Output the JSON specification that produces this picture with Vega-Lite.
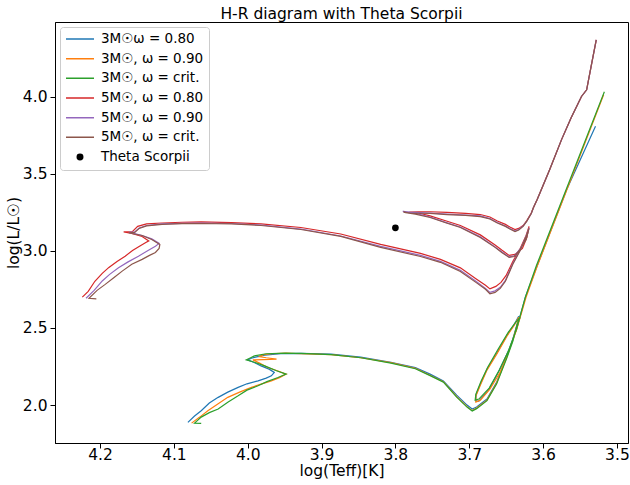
{
  "$schema": "https://vega.github.io/schema/vega-lite/v6.json",
  "width": 573,
  "height": 421,
  "autosize": {"type": "none"},
  "padding": {"left": 55, "top": 22, "right": 2, "bottom": 42},
  "title": {"text": "H-R diagram with Theta Scorpii", "fontSize": 15.5, "font": "DejaVu Sans", "fontWeight": "normal", "color": "black", "offset": 4, "anchor": "middle", "baseline": "alphabetic", "dy": 16},
  "datasets": {
    "star": [{"s": "Theta Scorpii", "x": 3.80, "y": 3.15}],
    "tracks": [
      {"s":"3M☉ω = 0.80","i":0,"x":4.081,"y":1.888},{"s":"3M☉ω = 0.80","i":1,"x":4.072,"y":1.929},{"s":"3M☉ω = 0.80","i":2,"x":4.063,"y":1.963},{"s":"3M☉ω = 0.80","i":3,"x":4.052,"y":2.013},{"s":"3M☉ω = 0.80","i":4,"x":4.040,"y":2.050},{"s":"3M☉ω = 0.80","i":5,"x":4.027,"y":2.084},{"s":"3M☉ω = 0.80","i":6,"x":4.013,"y":2.115},{"s":"3M☉ω = 0.80","i":7,"x":4.001,"y":2.138},{"s":"3M☉ω = 0.80","i":8,"x":3.986,"y":2.157},{"s":"3M☉ω = 0.80","i":9,"x":3.975,"y":2.175},{"s":"3M☉ω = 0.80","i":10,"x":3.968,"y":2.190},{"s":"3M☉ω = 0.80","i":11,"x":3.964,"y":2.212},{"s":"3M☉ω = 0.80","i":12,"x":3.971,"y":2.233},{"s":"3M☉ω = 0.80","i":13,"x":3.982,"y":2.254},{"s":"3M☉ω = 0.80","i":14,"x":3.992,"y":2.278},{"s":"3M☉ω = 0.80","i":15,"x":4.000,"y":2.293},{"s":"3M☉ω = 0.80","i":16,"x":3.995,"y":2.304},{"s":"3M☉ω = 0.80","i":17,"x":3.991,"y":2.309},{"s":"3M☉ω = 0.80","i":18,"x":3.977,"y":2.324},{"s":"3M☉ω = 0.80","i":19,"x":3.955,"y":2.333},{"s":"3M☉ω = 0.80","i":20,"x":3.928,"y":2.335},{"s":"3M☉ω = 0.80","i":21,"x":3.887,"y":2.330},{"s":"3M☉ω = 0.80","i":22,"x":3.847,"y":2.311},{"s":"3M☉ω = 0.80","i":23,"x":3.806,"y":2.278},{"s":"3M☉ω = 0.80","i":24,"x":3.773,"y":2.243},{"s":"3M☉ω = 0.80","i":25,"x":3.753,"y":2.201},{"s":"3M☉ω = 0.80","i":26,"x":3.735,"y":2.157},{"s":"3M☉ω = 0.80","i":27,"x":3.717,"y":2.065},{"s":"3M☉ω = 0.80","i":28,"x":3.703,"y":2.000},{"s":"3M☉ω = 0.80","i":29,"x":3.696,"y":1.974},{"s":"3M☉ω = 0.80","i":30,"x":3.690,"y":1.987},{"s":"3M☉ω = 0.80","i":31,"x":3.676,"y":2.039},{"s":"3M☉ω = 0.80","i":32,"x":3.663,"y":2.147},{"s":"3M☉ω = 0.80","i":33,"x":3.649,"y":2.319},{"s":"3M☉ω = 0.80","i":34,"x":3.641,"y":2.427},{"s":"3M☉ω = 0.80","i":35,"x":3.634,"y":2.544},{"s":"3M☉ω = 0.80","i":36,"x":3.633,"y":2.576},{"s":"3M☉ω = 0.80","i":37,"x":3.639,"y":2.524},{"s":"3M☉ω = 0.80","i":38,"x":3.649,"y":2.453},{"s":"3M☉ω = 0.80","i":39,"x":3.662,"y":2.343},{"s":"3M☉ω = 0.80","i":40,"x":3.676,"y":2.233},{"s":"3M☉ω = 0.80","i":41,"x":3.685,"y":2.136},{"s":"3M☉ω = 0.80","i":42,"x":3.691,"y":2.065},{"s":"3M☉ω = 0.80","i":43,"x":3.691,"y":2.026},{"s":"3M☉ω = 0.80","i":44,"x":3.687,"y":2.026},{"s":"3M☉ω = 0.80","i":45,"x":3.673,"y":2.104},{"s":"3M☉ω = 0.80","i":46,"x":3.660,"y":2.220},{"s":"3M☉ω = 0.80","i":47,"x":3.647,"y":2.350},{"s":"3M☉ω = 0.80","i":48,"x":3.636,"y":2.492},{"s":"3M☉ω = 0.80","i":49,"x":3.624,"y":2.700},{"s":"3M☉ω = 0.80","i":50,"x":3.610,"y":2.880},{"s":"3M☉ω = 0.80","i":51,"x":3.568,"y":3.398},{"s":"3M☉ω = 0.80","i":52,"x":3.529,"y":3.808},
      {"s":"3M☉, ω = 0.90","i":0,"x":4.076,"y":1.883},{"s":"3M☉, ω = 0.90","i":1,"x":4.065,"y":1.922},{"s":"3M☉, ω = 0.90","i":2,"x":4.054,"y":1.963},{"s":"3M☉, ω = 0.90","i":3,"x":4.041,"y":2.006},{"s":"3M☉, ω = 0.90","i":4,"x":4.027,"y":2.050},{"s":"3M☉, ω = 0.90","i":5,"x":4.011,"y":2.084},{"s":"3M☉, ω = 0.90","i":6,"x":3.995,"y":2.115},{"s":"3M☉, ω = 0.90","i":7,"x":3.982,"y":2.136},{"s":"3M☉, ω = 0.90","i":8,"x":3.968,"y":2.157},{"s":"3M☉, ω = 0.90","i":9,"x":3.957,"y":2.178},{"s":"3M☉, ω = 0.90","i":10,"x":3.948,"y":2.201},{"s":"3M☉, ω = 0.90","i":11,"x":3.960,"y":2.223},{"s":"3M☉, ω = 0.90","i":12,"x":3.973,"y":2.244},{"s":"3M☉, ω = 0.90","i":13,"x":3.984,"y":2.272},{"s":"3M☉, ω = 0.90","i":14,"x":3.993,"y":2.293},{"s":"3M☉, ω = 0.90","i":15,"x":3.979,"y":2.295},{"s":"3M☉, ω = 0.90","i":16,"x":3.961,"y":2.298},{"s":"3M☉, ω = 0.90","i":17,"x":3.975,"y":2.307},{"s":"3M☉, ω = 0.90","i":18,"x":3.984,"y":2.314},{"s":"3M☉, ω = 0.90","i":19,"x":3.979,"y":2.327},{"s":"3M☉, ω = 0.90","i":20,"x":3.968,"y":2.333},{"s":"3M☉, ω = 0.90","i":21,"x":3.948,"y":2.337},{"s":"3M☉, ω = 0.90","i":22,"x":3.928,"y":2.333},{"s":"3M☉, ω = 0.90","i":23,"x":3.887,"y":2.327},{"s":"3M☉, ω = 0.90","i":24,"x":3.847,"y":2.307},{"s":"3M☉, ω = 0.90","i":25,"x":3.806,"y":2.275},{"s":"3M☉, ω = 0.90","i":26,"x":3.773,"y":2.239},{"s":"3M☉, ω = 0.90","i":27,"x":3.753,"y":2.194},{"s":"3M☉, ω = 0.90","i":28,"x":3.735,"y":2.152},{"s":"3M☉, ω = 0.90","i":29,"x":3.717,"y":2.055},{"s":"3M☉, ω = 0.90","i":30,"x":3.703,"y":1.990},{"s":"3M☉, ω = 0.90","i":31,"x":3.696,"y":1.964},{"s":"3M☉, ω = 0.90","i":32,"x":3.690,"y":1.981},{"s":"3M☉, ω = 0.90","i":33,"x":3.676,"y":2.032},{"s":"3M☉, ω = 0.90","i":34,"x":3.663,"y":2.142},{"s":"3M☉, ω = 0.90","i":35,"x":3.649,"y":2.314},{"s":"3M☉, ω = 0.90","i":36,"x":3.641,"y":2.421},{"s":"3M☉, ω = 0.90","i":37,"x":3.635,"y":2.524},{"s":"3M☉, ω = 0.90","i":38,"x":3.633,"y":2.570},{"s":"3M☉, ω = 0.90","i":39,"x":3.639,"y":2.518},{"s":"3M☉, ω = 0.90","i":40,"x":3.649,"y":2.447},{"s":"3M☉, ω = 0.90","i":41,"x":3.662,"y":2.337},{"s":"3M☉, ω = 0.90","i":42,"x":3.676,"y":2.227},{"s":"3M☉, ω = 0.90","i":43,"x":3.685,"y":2.129},{"s":"3M☉, ω = 0.90","i":44,"x":3.691,"y":2.058},{"s":"3M☉, ω = 0.90","i":45,"x":3.691,"y":2.019},{"s":"3M☉, ω = 0.90","i":46,"x":3.685,"y":2.032},{"s":"3M☉, ω = 0.90","i":47,"x":3.672,"y":2.104},{"s":"3M☉, ω = 0.90","i":48,"x":3.658,"y":2.214},{"s":"3M☉, ω = 0.90","i":49,"x":3.647,"y":2.343},{"s":"3M☉, ω = 0.90","i":50,"x":3.636,"y":2.486},{"s":"3M☉, ω = 0.90","i":51,"x":3.623,"y":2.700},{"s":"3M☉, ω = 0.90","i":52,"x":3.608,"y":2.900},{"s":"3M☉, ω = 0.90","i":53,"x":3.518,"y":4.013},
      {"s":"3M☉, ω = crit.","i":0,"x":4.063,"y":1.881},{"s":"3M☉, ω = crit.","i":1,"x":4.072,"y":1.883},{"s":"3M☉, ω = crit.","i":2,"x":4.063,"y":1.922},{"s":"3M☉, ω = crit.","i":3,"x":4.052,"y":1.951},{"s":"3M☉, ω = crit.","i":4,"x":4.040,"y":1.974},{"s":"3M☉, ω = crit.","i":5,"x":4.027,"y":2.019},{"s":"3M☉, ω = crit.","i":6,"x":4.013,"y":2.060},{"s":"3M☉, ω = crit.","i":7,"x":4.001,"y":2.097},{"s":"3M☉, ω = crit.","i":8,"x":3.986,"y":2.125},{"s":"3M☉, ω = crit.","i":9,"x":3.974,"y":2.152},{"s":"3M☉, ω = crit.","i":10,"x":3.959,"y":2.179},{"s":"3M☉, ω = crit.","i":11,"x":3.948,"y":2.201},{"s":"3M☉, ω = crit.","i":12,"x":3.961,"y":2.223},{"s":"3M☉, ω = crit.","i":13,"x":3.977,"y":2.254},{"s":"3M☉, ω = crit.","i":14,"x":3.991,"y":2.278},{"s":"3M☉, ω = crit.","i":15,"x":4.002,"y":2.293},{"s":"3M☉, ω = crit.","i":16,"x":3.996,"y":2.307},{"s":"3M☉, ω = crit.","i":17,"x":3.991,"y":2.319},{"s":"3M☉, ω = crit.","i":18,"x":3.975,"y":2.333},{"s":"3M☉, ω = crit.","i":19,"x":3.950,"y":2.337},{"s":"3M☉, ω = crit.","i":20,"x":3.928,"y":2.335},{"s":"3M☉, ω = crit.","i":21,"x":3.887,"y":2.327},{"s":"3M☉, ω = crit.","i":22,"x":3.847,"y":2.307},{"s":"3M☉, ω = crit.","i":23,"x":3.806,"y":2.272},{"s":"3M☉, ω = crit.","i":24,"x":3.773,"y":2.236},{"s":"3M☉, ω = crit.","i":25,"x":3.753,"y":2.191},{"s":"3M☉, ω = crit.","i":26,"x":3.735,"y":2.149},{"s":"3M☉, ω = crit.","i":27,"x":3.717,"y":2.052},{"s":"3M☉, ω = crit.","i":28,"x":3.703,"y":1.987},{"s":"3M☉, ω = crit.","i":29,"x":3.696,"y":1.961},{"s":"3M☉, ω = crit.","i":30,"x":3.690,"y":1.977},{"s":"3M☉, ω = crit.","i":31,"x":3.676,"y":2.029},{"s":"3M☉, ω = crit.","i":32,"x":3.663,"y":2.136},{"s":"3M☉, ω = crit.","i":33,"x":3.649,"y":2.307},{"s":"3M☉, ω = crit.","i":34,"x":3.641,"y":2.414},{"s":"3M☉, ω = crit.","i":35,"x":3.635,"y":2.524},{"s":"3M☉, ω = crit.","i":36,"x":3.631,"y":2.570},{"s":"3M☉, ω = crit.","i":37,"x":3.638,"y":2.531},{"s":"3M☉, ω = crit.","i":38,"x":3.647,"y":2.473},{"s":"3M☉, ω = crit.","i":39,"x":3.661,"y":2.362},{"s":"3M☉, ω = crit.","i":40,"x":3.675,"y":2.246},{"s":"3M☉, ω = crit.","i":41,"x":3.684,"y":2.155},{"s":"3M☉, ω = crit.","i":42,"x":3.691,"y":2.071},{"s":"3M☉, ω = crit.","i":43,"x":3.692,"y":2.032},{"s":"3M☉, ω = crit.","i":44,"x":3.687,"y":2.039},{"s":"3M☉, ω = crit.","i":45,"x":3.673,"y":2.110},{"s":"3M☉, ω = crit.","i":46,"x":3.660,"y":2.220},{"s":"3M☉, ω = crit.","i":47,"x":3.647,"y":2.350},{"s":"3M☉, ω = crit.","i":48,"x":3.636,"y":2.492},{"s":"3M☉, ω = crit.","i":49,"x":3.624,"y":2.700},{"s":"3M☉, ω = crit.","i":50,"x":3.609,"y":2.905},{"s":"3M☉, ω = crit.","i":51,"x":3.517,"y":4.032},
      {"s":"5M☉, ω = 0.80","i":0,"x":4.224,"y":2.700},{"s":"5M☉, ω = 0.80","i":1,"x":4.216,"y":2.738},{"s":"5M☉, ω = 0.80","i":2,"x":4.207,"y":2.803},{"s":"5M☉, ω = 0.80","i":3,"x":4.197,"y":2.854},{"s":"5M☉, ω = 0.80","i":4,"x":4.188,"y":2.893},{"s":"5M☉, ω = 0.80","i":5,"x":4.177,"y":2.932},{"s":"5M☉, ω = 0.80","i":6,"x":4.166,"y":2.966},{"s":"5M☉, ω = 0.80","i":7,"x":4.156,"y":3.003},{"s":"5M☉, ω = 0.80","i":8,"x":4.146,"y":3.032},{"s":"5M☉, ω = 0.80","i":9,"x":4.138,"y":3.055},{"s":"5M☉, ω = 0.80","i":10,"x":4.134,"y":3.065},{"s":"5M☉, ω = 0.80","i":11,"x":4.143,"y":3.094},{"s":"5M☉, ω = 0.80","i":12,"x":4.157,"y":3.113},{"s":"5M☉, ω = 0.80","i":13,"x":4.168,"y":3.123},{"s":"5M☉, ω = 0.80","i":14,"x":4.156,"y":3.126},{"s":"5M☉, ω = 0.80","i":15,"x":4.149,"y":3.159},{"s":"5M☉, ω = 0.80","i":16,"x":4.137,"y":3.175},{"s":"5M☉, ω = 0.80","i":17,"x":4.116,"y":3.181},{"s":"5M☉, ω = 0.80","i":18,"x":4.089,"y":3.186},{"s":"5M☉, ω = 0.80","i":19,"x":4.063,"y":3.188},{"s":"5M☉, ω = 0.80","i":20,"x":4.022,"y":3.184},{"s":"5M☉, ω = 0.80","i":21,"x":3.982,"y":3.175},{"s":"5M☉, ω = 0.80","i":22,"x":3.928,"y":3.152},{"s":"5M☉, ω = 0.80","i":23,"x":3.874,"y":3.110},{"s":"5M☉, ω = 0.80","i":24,"x":3.820,"y":3.042},{"s":"5M☉, ω = 0.80","i":25,"x":3.766,"y":2.984},{"s":"5M☉, ω = 0.80","i":26,"x":3.739,"y":2.945},{"s":"5M☉, ω = 0.80","i":27,"x":3.712,"y":2.890},{"s":"5M☉, ω = 0.80","i":28,"x":3.691,"y":2.819},{"s":"5M☉, ω = 0.80","i":29,"x":3.678,"y":2.777},{"s":"5M☉, ω = 0.80","i":30,"x":3.672,"y":2.754},{"s":"5M☉, ω = 0.80","i":31,"x":3.664,"y":2.770},{"s":"5M☉, ω = 0.80","i":32,"x":3.657,"y":2.796},{"s":"5M☉, ω = 0.80","i":33,"x":3.650,"y":2.841},{"s":"5M☉, ω = 0.80","i":34,"x":3.641,"y":2.932},{"s":"5M☉, ω = 0.80","i":35,"x":3.631,"y":3.016},{"s":"5M☉, ω = 0.80","i":36,"x":3.623,"y":3.100},{"s":"5M☉, ω = 0.80","i":37,"x":3.619,"y":3.159},{"s":"5M☉, ω = 0.80","i":38,"x":3.622,"y":3.087},{"s":"5M☉, ω = 0.80","i":39,"x":3.628,"y":3.016},{"s":"5M☉, ω = 0.80","i":40,"x":3.638,"y":2.977},{"s":"5M☉, ω = 0.80","i":41,"x":3.646,"y":2.971},{"s":"5M☉, ω = 0.80","i":42,"x":3.656,"y":3.006},{"s":"5M☉, ω = 0.80","i":43,"x":3.665,"y":3.039},{"s":"5M☉, ω = 0.80","i":44,"x":3.685,"y":3.104},{"s":"5M☉, ω = 0.80","i":45,"x":3.712,"y":3.165},{"s":"5M☉, ω = 0.80","i":46,"x":3.731,"y":3.194},{"s":"5M☉, ω = 0.80","i":47,"x":3.753,"y":3.227},{"s":"5M☉, ω = 0.80","i":48,"x":3.769,"y":3.246},{"s":"5M☉, ω = 0.80","i":49,"x":3.781,"y":3.252},{"s":"5M☉, ω = 0.80","i":50,"x":3.769,"y":3.254},{"s":"5M☉, ω = 0.80","i":51,"x":3.753,"y":3.254},{"s":"5M☉, ω = 0.80","i":52,"x":3.730,"y":3.250},{"s":"5M☉, ω = 0.80","i":53,"x":3.705,"y":3.243},{"s":"5M☉, ω = 0.80","i":54,"x":3.685,"y":3.236},{"s":"5M☉, ω = 0.80","i":55,"x":3.672,"y":3.220},{"s":"5M☉, ω = 0.80","i":56,"x":3.662,"y":3.194},{"s":"5M☉, ω = 0.80","i":57,"x":3.651,"y":3.172},{"s":"5M☉, ω = 0.80","i":58,"x":3.645,"y":3.155},{"s":"5M☉, ω = 0.80","i":59,"x":3.638,"y":3.139},{"s":"5M☉, ω = 0.80","i":60,"x":3.633,"y":3.146},{"s":"5M☉, ω = 0.80","i":61,"x":3.627,"y":3.165},{"s":"5M☉, ω = 0.80","i":62,"x":3.622,"y":3.197},{"s":"5M☉, ω = 0.80","i":63,"x":3.616,"y":3.246},{"s":"5M☉, ω = 0.80","i":64,"x":3.613,"y":3.282},{"s":"5M☉, ω = 0.80","i":65,"x":3.608,"y":3.333},{"s":"5M☉, ω = 0.80","i":66,"x":3.604,"y":3.379},{"s":"5M☉, ω = 0.80","i":67,"x":3.591,"y":3.528},{"s":"5M☉, ω = 0.80","i":68,"x":3.575,"y":3.722},{"s":"5M☉, ω = 0.80","i":69,"x":3.562,"y":3.864},{"s":"5M☉, ω = 0.80","i":70,"x":3.548,"y":4.002},{"s":"5M☉, ω = 0.80","i":71,"x":3.541,"y":4.045},{"s":"5M☉, ω = 0.80","i":72,"x":3.535,"y":4.196},{"s":"5M☉, ω = 0.80","i":73,"x":3.528,"y":4.369},
      {"s":"5M☉, ω = 0.90","i":0,"x":4.219,"y":2.693},{"s":"5M☉, ω = 0.90","i":1,"x":4.208,"y":2.744},{"s":"5M☉, ω = 0.90","i":2,"x":4.197,"y":2.805},{"s":"5M☉, ω = 0.90","i":3,"x":4.187,"y":2.848},{"s":"5M☉, ω = 0.90","i":4,"x":4.175,"y":2.891},{"s":"5M☉, ω = 0.90","i":5,"x":4.162,"y":2.929},{"s":"5M☉, ω = 0.90","i":6,"x":4.148,"y":2.966},{"s":"5M☉, ω = 0.90","i":7,"x":4.135,"y":3.003},{"s":"5M☉, ω = 0.90","i":8,"x":4.125,"y":3.031},{"s":"5M☉, ω = 0.90","i":9,"x":4.120,"y":3.049},{"s":"5M☉, ω = 0.90","i":10,"x":4.130,"y":3.078},{"s":"5M☉, ω = 0.90","i":11,"x":4.143,"y":3.100},{"s":"5M☉, ω = 0.90","i":12,"x":4.157,"y":3.117},{"s":"5M☉, ω = 0.90","i":13,"x":4.161,"y":3.120},{"s":"5M☉, ω = 0.90","i":14,"x":4.153,"y":3.123},{"s":"5M☉, ω = 0.90","i":15,"x":4.147,"y":3.149},{"s":"5M☉, ω = 0.90","i":16,"x":4.137,"y":3.165},{"s":"5M☉, ω = 0.90","i":17,"x":4.116,"y":3.175},{"s":"5M☉, ω = 0.90","i":18,"x":4.089,"y":3.179},{"s":"5M☉, ω = 0.90","i":19,"x":4.063,"y":3.181},{"s":"5M☉, ω = 0.90","i":20,"x":4.022,"y":3.178},{"s":"5M☉, ω = 0.90","i":21,"x":3.982,"y":3.168},{"s":"5M☉, ω = 0.90","i":22,"x":3.928,"y":3.142},{"s":"5M☉, ω = 0.90","i":23,"x":3.874,"y":3.097},{"s":"5M☉, ω = 0.90","i":24,"x":3.820,"y":3.029},{"s":"5M☉, ω = 0.90","i":25,"x":3.766,"y":2.971},{"s":"5M☉, ω = 0.90","i":26,"x":3.739,"y":2.932},{"s":"5M☉, ω = 0.90","i":27,"x":3.712,"y":2.874},{"s":"5M☉, ω = 0.90","i":28,"x":3.691,"y":2.803},{"s":"5M☉, ω = 0.90","i":29,"x":3.678,"y":2.757},{"s":"5M☉, ω = 0.90","i":30,"x":3.672,"y":2.731},{"s":"5M☉, ω = 0.90","i":31,"x":3.665,"y":2.741},{"s":"5M☉, ω = 0.90","i":32,"x":3.658,"y":2.764},{"s":"5M☉, ω = 0.90","i":33,"x":3.651,"y":2.809},{"s":"5M☉, ω = 0.90","i":34,"x":3.641,"y":2.919},{"s":"5M☉, ω = 0.90","i":35,"x":3.631,"y":3.006},{"s":"5M☉, ω = 0.90","i":36,"x":3.623,"y":3.097},{"s":"5M☉, ω = 0.90","i":37,"x":3.619,"y":3.149},{"s":"5M☉, ω = 0.90","i":38,"x":3.623,"y":3.078},{"s":"5M☉, ω = 0.90","i":39,"x":3.631,"y":3.013},{"s":"5M☉, ω = 0.90","i":40,"x":3.639,"y":2.968},{"s":"5M☉, ω = 0.90","i":41,"x":3.646,"y":2.961},{"s":"5M☉, ω = 0.90","i":42,"x":3.656,"y":2.994},{"s":"5M☉, ω = 0.90","i":43,"x":3.665,"y":3.026},{"s":"5M☉, ω = 0.90","i":44,"x":3.685,"y":3.091},{"s":"5M☉, ω = 0.90","i":45,"x":3.712,"y":3.155},{"s":"5M☉, ω = 0.90","i":46,"x":3.731,"y":3.184},{"s":"5M☉, ω = 0.90","i":47,"x":3.753,"y":3.220},{"s":"5M☉, ω = 0.90","i":48,"x":3.773,"y":3.243},{"s":"5M☉, ω = 0.90","i":49,"x":3.786,"y":3.252},{"s":"5M☉, ω = 0.90","i":50,"x":3.790,"y":3.256},{"s":"5M☉, ω = 0.90","i":51,"x":3.780,"y":3.252},{"s":"5M☉, ω = 0.90","i":52,"x":3.753,"y":3.246},{"s":"5M☉, ω = 0.90","i":53,"x":3.730,"y":3.239},{"s":"5M☉, ω = 0.90","i":54,"x":3.705,"y":3.233},{"s":"5M☉, ω = 0.90","i":55,"x":3.685,"y":3.227},{"s":"5M☉, ω = 0.90","i":56,"x":3.672,"y":3.210},{"s":"5M☉, ω = 0.90","i":57,"x":3.662,"y":3.184},{"s":"5M☉, ω = 0.90","i":58,"x":3.651,"y":3.162},{"s":"5M☉, ω = 0.90","i":59,"x":3.645,"y":3.146},{"s":"5M☉, ω = 0.90","i":60,"x":3.638,"y":3.129},{"s":"5M☉, ω = 0.90","i":61,"x":3.633,"y":3.139},{"s":"5M☉, ω = 0.90","i":62,"x":3.627,"y":3.162},{"s":"5M☉, ω = 0.90","i":63,"x":3.622,"y":3.194},{"s":"5M☉, ω = 0.90","i":64,"x":3.616,"y":3.243},{"s":"5M☉, ω = 0.90","i":65,"x":3.613,"y":3.282},{"s":"5M☉, ω = 0.90","i":66,"x":3.608,"y":3.333},{"s":"5M☉, ω = 0.90","i":67,"x":3.604,"y":3.379},{"s":"5M☉, ω = 0.90","i":68,"x":3.591,"y":3.528},{"s":"5M☉, ω = 0.90","i":69,"x":3.575,"y":3.722},{"s":"5M☉, ω = 0.90","i":70,"x":3.562,"y":3.864},{"s":"5M☉, ω = 0.90","i":71,"x":3.548,"y":4.002},{"s":"5M☉, ω = 0.90","i":72,"x":3.541,"y":4.045},{"s":"5M☉, ω = 0.90","i":73,"x":3.535,"y":4.196},{"s":"5M☉, ω = 0.90","i":74,"x":3.528,"y":4.369},
      {"s":"5M☉, ω = crit.","i":0,"x":4.205,"y":2.689},{"s":"5M☉, ω = crit.","i":1,"x":4.215,"y":2.693},{"s":"5M☉, ω = crit.","i":2,"x":4.204,"y":2.744},{"s":"5M☉, ω = crit.","i":3,"x":4.193,"y":2.783},{"s":"5M☉, ω = crit.","i":4,"x":4.181,"y":2.828},{"s":"5M☉, ω = crit.","i":5,"x":4.170,"y":2.869},{"s":"5M☉, ω = crit.","i":6,"x":4.157,"y":2.913},{"s":"5M☉, ω = crit.","i":7,"x":4.143,"y":2.945},{"s":"5M☉, ω = crit.","i":8,"x":4.133,"y":2.971},{"s":"5M☉, ω = crit.","i":9,"x":4.125,"y":2.990},{"s":"5M☉, ω = crit.","i":10,"x":4.120,"y":3.016},{"s":"5M☉, ω = crit.","i":11,"x":4.119,"y":3.042},{"s":"5M☉, ω = crit.","i":12,"x":4.130,"y":3.074},{"s":"5M☉, ω = crit.","i":13,"x":4.143,"y":3.100},{"s":"5M☉, ω = crit.","i":14,"x":4.157,"y":3.113},{"s":"5M☉, ω = crit.","i":15,"x":4.161,"y":3.118},{"s":"5M☉, ω = crit.","i":16,"x":4.153,"y":3.120},{"s":"5M☉, ω = crit.","i":17,"x":4.147,"y":3.146},{"s":"5M☉, ω = crit.","i":18,"x":4.137,"y":3.162},{"s":"5M☉, ω = crit.","i":19,"x":4.116,"y":3.172},{"s":"5M☉, ω = crit.","i":20,"x":4.089,"y":3.177},{"s":"5M☉, ω = crit.","i":21,"x":4.063,"y":3.178},{"s":"5M☉, ω = crit.","i":22,"x":4.022,"y":3.175},{"s":"5M☉, ω = crit.","i":23,"x":3.982,"y":3.165},{"s":"5M☉, ω = crit.","i":24,"x":3.928,"y":3.139},{"s":"5M☉, ω = crit.","i":25,"x":3.874,"y":3.094},{"s":"5M☉, ω = crit.","i":26,"x":3.820,"y":3.023},{"s":"5M☉, ω = crit.","i":27,"x":3.766,"y":2.964},{"s":"5M☉, ω = crit.","i":28,"x":3.739,"y":2.926},{"s":"5M☉, ω = crit.","i":29,"x":3.712,"y":2.867},{"s":"5M☉, ω = crit.","i":30,"x":3.691,"y":2.796},{"s":"5M☉, ω = crit.","i":31,"x":3.678,"y":2.751},{"s":"5M☉, ω = crit.","i":32,"x":3.672,"y":2.722},{"s":"5M☉, ω = crit.","i":33,"x":3.665,"y":2.731},{"s":"5M☉, ω = crit.","i":34,"x":3.658,"y":2.757},{"s":"5M☉, ω = crit.","i":35,"x":3.651,"y":2.803},{"s":"5M☉, ω = crit.","i":36,"x":3.641,"y":2.913},{"s":"5M☉, ω = crit.","i":37,"x":3.631,"y":3.003},{"s":"5M☉, ω = crit.","i":38,"x":3.623,"y":3.094},{"s":"5M☉, ω = crit.","i":39,"x":3.619,"y":3.146},{"s":"5M☉, ω = crit.","i":40,"x":3.623,"y":3.074},{"s":"5M☉, ω = crit.","i":41,"x":3.631,"y":3.010},{"s":"5M☉, ω = crit.","i":42,"x":3.639,"y":2.964},{"s":"5M☉, ω = crit.","i":43,"x":3.646,"y":2.958},{"s":"5M☉, ω = crit.","i":44,"x":3.656,"y":2.990},{"s":"5M☉, ω = crit.","i":45,"x":3.665,"y":3.023},{"s":"5M☉, ω = crit.","i":46,"x":3.685,"y":3.087},{"s":"5M☉, ω = crit.","i":47,"x":3.712,"y":3.152},{"s":"5M☉, ω = crit.","i":48,"x":3.731,"y":3.181},{"s":"5M☉, ω = crit.","i":49,"x":3.753,"y":3.217},{"s":"5M☉, ω = crit.","i":50,"x":3.773,"y":3.239},{"s":"5M☉, ω = crit.","i":51,"x":3.786,"y":3.249},{"s":"5M☉, ω = crit.","i":52,"x":3.789,"y":3.252},{"s":"5M☉, ω = crit.","i":53,"x":3.780,"y":3.246},{"s":"5M☉, ω = crit.","i":54,"x":3.753,"y":3.243},{"s":"5M☉, ω = crit.","i":55,"x":3.730,"y":3.236},{"s":"5M☉, ω = crit.","i":56,"x":3.705,"y":3.230},{"s":"5M☉, ω = crit.","i":57,"x":3.685,"y":3.223},{"s":"5M☉, ω = crit.","i":58,"x":3.672,"y":3.207},{"s":"5M☉, ω = crit.","i":59,"x":3.662,"y":3.181},{"s":"5M☉, ω = crit.","i":60,"x":3.651,"y":3.159},{"s":"5M☉, ω = crit.","i":61,"x":3.645,"y":3.142},{"s":"5M☉, ω = crit.","i":62,"x":3.638,"y":3.126},{"s":"5M☉, ω = crit.","i":63,"x":3.633,"y":3.136},{"s":"5M☉, ω = crit.","i":64,"x":3.627,"y":3.159},{"s":"5M☉, ω = crit.","i":65,"x":3.622,"y":3.193},{"s":"5M☉, ω = crit.","i":66,"x":3.616,"y":3.243},{"s":"5M☉, ω = crit.","i":67,"x":3.613,"y":3.282},{"s":"5M☉, ω = crit.","i":68,"x":3.608,"y":3.333},{"s":"5M☉, ω = crit.","i":69,"x":3.604,"y":3.379},{"s":"5M☉, ω = crit.","i":70,"x":3.591,"y":3.528},{"s":"5M☉, ω = crit.","i":71,"x":3.575,"y":3.722},{"s":"5M☉, ω = crit.","i":72,"x":3.562,"y":3.864},{"s":"5M☉, ω = crit.","i":73,"x":3.548,"y":4.002},{"s":"5M☉, ω = crit.","i":74,"x":3.541,"y":4.045},{"s":"5M☉, ω = crit.","i":75,"x":3.535,"y":4.196},{"s":"5M☉, ω = crit.","i":76,"x":3.528,"y":4.369}
    ]
  },
  "layer": [
    {
      "data": {"name": "tracks"},
      "mark": {"type": "line", "strokeWidth": 1.2},
      "encoding": {
        "x": {"field": "x", "type": "quantitative",
              "scale": {"domain": [3.485, 4.261], "reverse": true, "nice": false, "zero": false},
              "axis": {"values": [4.2, 4.1, 4.0, 3.9, 3.8, 3.7, 3.6, 3.5], "format": ".1f", "title": "log(Teff)[K]", "labelPadding": -1, "titlePadding": 1}},
        "y": {"field": "y", "type": "quantitative",
              "scale": {"domain": [1.754, 4.485], "nice": false, "zero": false},
              "axis": {"values": [2.0, 2.5, 3.0, 3.5, 4.0], "format": ".1f", "title": "log(L/L☉)", "labelPadding": 3, "titlePadding": 1}},
        "color": {"field": "s", "type": "nominal",
          "scale": {"domain": ["3M☉ω = 0.80", "3M☉, ω = 0.90", "3M☉, ω = crit.", "5M☉, ω = 0.80", "5M☉, ω = 0.90", "5M☉, ω = crit.", "Theta Scorpii"],
                    "range": ["#1f77b4", "#ff7f0e", "#2ca02c", "#d62728", "#9467bd", "#8c564b", "#000000"]},
          "legend": {"title": null, "orient": "top-left", "offset": 5, "padding": 5,
                     "strokeColor": "#cccccc", "fillColor": "rgba(255,255,255,0.8)", "cornerRadius": 3,
                     "labelFontSize": 13.5, "labelFont": "DejaVu Sans", "labelColor": "black",
                     "symbolSize": 784, "symbolStrokeWidth": 1.5, "clipHeight": 14, "rowPadding": 5.67, "labelOffset": 6,
                     "encode": {"symbols": {"update": {
                        "shape": {"signal": "datum.value === 'Theta Scorpii' ? 'circle' : 'stroke'"},
                        "size": {"signal": "datum.value === 'Theta Scorpii' ? 30 : 784"},
                        "fill": {"signal": "datum.value === 'Theta Scorpii' ? 'black' : 'transparent'"},
                        "stroke": {"signal": "datum.value === 'Theta Scorpii' ? 'transparent' : scale('color', datum.value)"},
                        "strokeWidth": {"value": 1.5},
                        "opacity": {"value": 1}
                     }}}}},
        "order": {"field": "i", "type": "quantitative"}
      }
    },
    {
      "data": {"name": "star"},
      "mark": {"type": "point", "filled": true, "size": 45, "opacity": 1},
      "encoding": {
        "x": {"field": "x", "type": "quantitative"},
        "y": {"field": "y", "type": "quantitative"},
        "color": {"field": "s", "type": "nominal"}
      }
    }
  ],
  "config": {
    "font": "DejaVu Sans",
    "view": {"stroke": "black", "strokeWidth": 1},
    "axis": {"grid": false, "domainColor": "black", "tickColor": "black", "labelColor": "black", "titleColor": "black",
             "labelFont": "DejaVu Sans", "titleFont": "DejaVu Sans", "labelFontSize": 15.5, "titleFontSize": 15.5,
             "titleFontWeight": "normal", "tickSize": 5, "domainWidth": 1}
  }
}
